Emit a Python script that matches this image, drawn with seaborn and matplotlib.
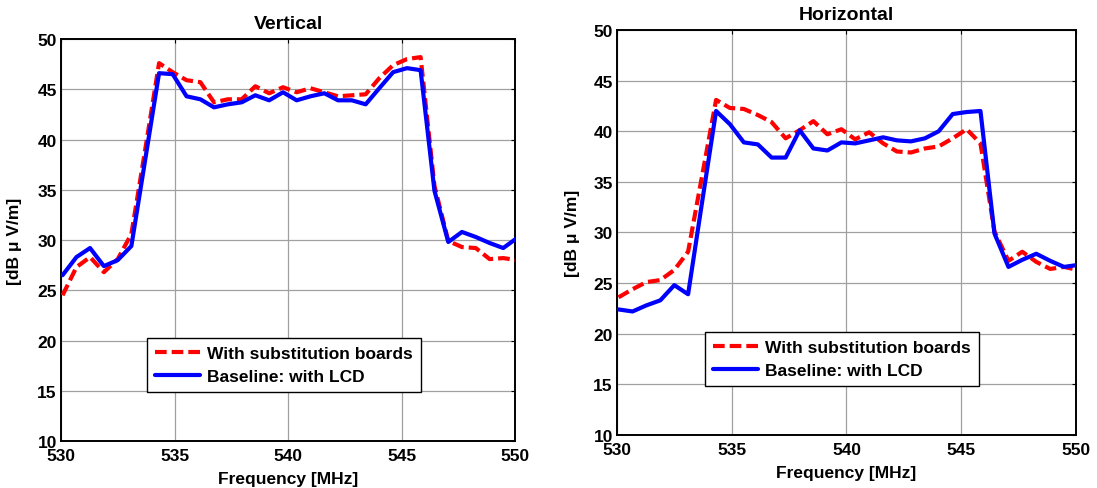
import matplotlib
matplotlib.use("Agg")
import matplotlib.pyplot as plt
import seaborn as sns
import pandas as pd

# Measurement frequency grid [MHz]
freq = [530.07, 530.68, 531.28, 531.89, 532.50, 533.10, 533.71, 534.32, 534.92,
        535.53, 536.14, 536.74, 537.35, 537.96, 538.56, 539.17, 539.78, 540.38,
        540.99, 541.60, 542.20, 542.81, 543.42, 544.02, 544.63, 545.24, 545.84,
        546.45, 547.06, 547.66, 548.27, 548.88, 549.48, 550.09]

# Vertical polarisation [dB uV/m]
vert_sub = [24.5, 27.3, 28.3, 26.8, 28.1, 30.6, 39.0, 47.6, 46.7, 45.9, 45.7, 43.7,
            44.0, 44.0, 45.3, 44.6, 45.2, 44.7, 45.1, 44.7, 44.3, 44.4, 44.5, 46.1,
            47.4, 48.0, 48.2, 35.4, 29.9, 29.3, 29.2, 28.1, 28.2, 28.0]
vert_base = [26.5, 28.3, 29.2, 27.4, 28.0, 29.4, 38.0, 46.6, 46.5, 44.3, 44.0, 43.2,
             43.5, 43.7, 44.4, 43.9, 44.7, 43.9, 44.3, 44.6, 43.9, 43.9, 43.5, 45.1,
             46.7, 47.1, 46.9, 34.9, 29.8, 30.8, 30.3, 29.7, 29.2, 30.2]

# Horizontal polarisation [dB uV/m]
hor_sub = [23.6, 24.4, 25.1, 25.3, 26.3, 28.1, 35.6, 43.1, 42.3, 42.2, 41.6, 40.9,
           39.3, 40.1, 41.0, 39.7, 40.2, 39.2, 39.9, 38.8, 38.0, 37.9, 38.3, 38.5,
           39.3, 40.2, 38.8, 30.1, 27.2, 28.1, 27.1, 26.4, 26.6, 26.3]
hor_base = [22.4, 22.2, 22.8, 23.3, 24.8, 23.9, 33.0, 42.0, 40.7, 38.9, 38.7, 37.4,
            37.4, 40.1, 38.3, 38.1, 38.9, 38.8, 39.1, 39.4, 39.1, 39.0, 39.3, 40.0,
            41.7, 41.9, 42.0, 29.9, 26.6, 27.3, 27.9, 27.2, 26.6, 26.8]

titles = ["Vertical", "Horizontal"]
series_labels = ["With substitution boards", "Baseline: with LCD"]
xticks = [530, 535, 540, 545, 550]
yticks = [10, 15, 20, 25, 30, 35, 40, 45, 50]

sns.set_style("white")
plt.rcParams["font.family"] = ["Liberation Sans", "DejaVu Sans"]
plt.rcParams["font.weight"] = "bold"
plt.rcParams["text.color"] = "black"
plt.rcParams["axes.labelcolor"] = "black"
plt.rcParams["xtick.color"] = "black"
plt.rcParams["ytick.color"] = "black"
FS = 12.5

fig = plt.figure(figsize=(10.97, 4.89), dpi=100)
axL = fig.add_axes([0.0556, 0.0961, 0.4139, 0.8221])
axR = fig.add_axes([0.5624, 0.1084, 0.4184, 0.8282])

panels = [(axL, vert_sub, vert_base, titles[0], 0.19, 0.122, -0.086),
          (axR, hor_sub, hor_base, titles[1], 0.192, 0.121, -0.080)]

for ax, sub, base, title, lx, ly, ylx in panels:
    df = pd.DataFrame({"f": freq, "sub": sub, "base": base})
    sns.lineplot(data=df, x="f", y="sub", ax=ax, color="#ff0000", linewidth=3,
                 linestyle=(0, (2.8, 1.2)), label=series_labels[0], errorbar=None,
                 sort=False, zorder=3)
    sns.lineplot(data=df, x="f", y="base", ax=ax, color="#0000ff", linewidth=3,
                 label=series_labels[1], errorbar=None, sort=False, zorder=3)
    ax.set_xlim(530, 550)
    ax.set_ylim(10, 50)
    ax.set_xticks(xticks)
    ax.set_yticks(yticks)
    ax.grid(True, color="#a0a0a0", linewidth=0.9, zorder=0)
    ax.set_axisbelow(True)
    for s in ax.spines.values():
        s.set_color("black")
        s.set_linewidth(1.4)
    ax.tick_params(direction="in", length=3, width=0.8, top=True, right=True,
                   labelsize=FS, colors="black")
    ax.tick_params(axis="x", pad=5)
    ax.tick_params(axis="y", pad=3)
    for lab in ax.get_xticklabels() + ax.get_yticklabels():
        lab.set_fontweight("bold")
    ax.set_title(title, fontsize=14, fontweight="bold", pad=8, color="black")
    ax.set_xlabel("Frequency [MHz]", fontsize=FS, fontweight="bold", labelpad=6)
    ax.set_ylabel("[dB \u03bc V/m]", fontsize=FS, fontweight="bold")
    ax.yaxis.set_label_coords(ylx, 0.5)
    leg = ax.legend(loc="lower left", bbox_to_anchor=(lx, ly), frameon=True,
                    fancybox=False, framealpha=1, edgecolor="black",
                    prop={"size": FS, "weight": "bold"}, handlelength=2.6,
                    borderpad=0.45, labelspacing=0.45, handletextpad=0.4,
                    borderaxespad=0)
    for t in leg.get_texts():
        t.set_color("black")
    leg.get_frame().set_linewidth(1.0)

fig.savefig("out.png", dpi=100)
